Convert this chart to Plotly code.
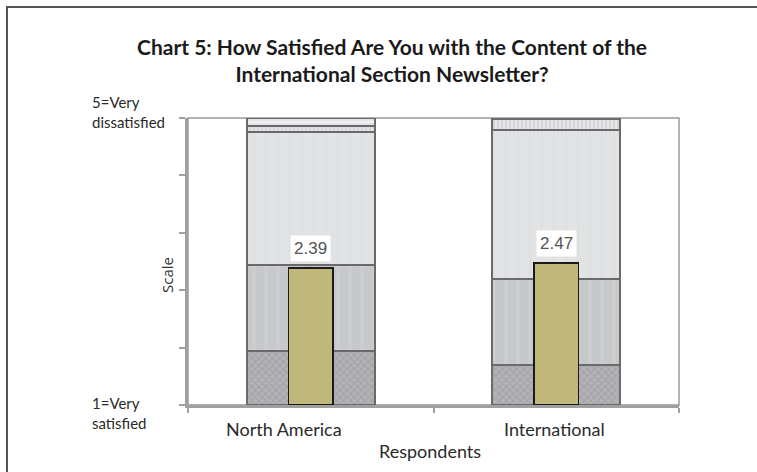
import plotly.graph_objects as go

categories = ["North America", "International"]
# distribution of responses (% of respondents) on the 1-5 scale
very_satisfied = [18.7, 13.9]
satisfied = [30.2, 29.9]
neutral = [46.3, 52.0]
dissatisfied = [2.1, 3.7]
very_dissatisfied = [2.7, 0.5]
mean_scores = [2.39, 2.47]
mean_labels = ["2.39", "2.47"]

W, H = 757, 472
ML, MR, MT, MB = 188, 78, 118, 67
pw = W - ML - MR
ph = H - MT - MB

def px_x(px):
    return (px - ML) / pw

def px_y(py):
    return (H - MB - py) / ph

fig = go.Figure()

seg_styles = [
    (very_satisfied, "#a9a9ad", dict(shape="x", fgcolor="#8c8c90", bgcolor="#b4b4b8", size=5, solidity=0.35)),
    (satisfied, "#cacbcd", dict(shape="|", fgcolor="#d3d4d6", bgcolor="#c7c8ca", size=12, solidity=0.25)),
    (neutral, "#e1e2e4", dict(shape="|", fgcolor="#dadbdd", bgcolor="#e2e3e5", size=12, solidity=0.2)),
    (dissatisfied, "#d8d8da", dict(shape="|", fgcolor="#bdbdc0", bgcolor="#e6e6e8", size=4, solidity=0.4)),
    (very_dissatisfied, "#ececee", dict(shape="-", fgcolor="#c8c8ca", bgcolor="#f0f0f2", size=4, solidity=0.3)),
]
for vals, col, pat in seg_styles:
    fig.add_trace(go.Bar(
        x=categories, y=vals, width=0.52,
        marker=dict(color=col, pattern=pat, line=dict(color="#6a6a6c", width=2)),
        yaxis="y", showlegend=False, hoverinfo="skip",
    ))

fig.add_trace(go.Bar(
    x=categories, y=mean_scores, width=0.183,
    marker=dict(color="#bfb87a", line=dict(color="#1a1a1a", width=1.5)),
    yaxis="y2", showlegend=False, hoverinfo="skip",
))

annotations = []
for c, m, t in zip(categories, mean_scores, mean_labels):
    annotations.append(dict(
        x=c, y=m, xref="x", yref="y2", text=t, showarrow=False,
        yanchor="bottom", yshift=6, bgcolor="white", borderpad=3,
        font=dict(family="Liberation Sans, Arial", size=17, color="#555555"),
    ))

ylab_font = dict(family="Lato, Open Sans", size=15, color="#2a2a2a")
xlab_font = dict(family="Lato, Open Sans", size=18, color="#2a2a2a")
annotations += [
    dict(x=px_x(90), y=px_y(112), xref="paper", yref="paper", text="5=Very<br>dissatisfied",
         showarrow=False, xanchor="left", yanchor="middle", align="left", font=ylab_font),
    dict(x=px_x(90), y=px_y(413), xref="paper", yref="paper", text="1=Very<br>satisfied",
         showarrow=False, xanchor="left", yanchor="middle", align="left", font=ylab_font),
    dict(x=px_x(284), y=px_y(429), xref="paper", yref="paper", text="North America",
         showarrow=False, xanchor="center", yanchor="middle", font=xlab_font),
    dict(x=px_x(554), y=px_y(429), xref="paper", yref="paper", text="International",
         showarrow=False, xanchor="center", yanchor="middle", font=xlab_font),
    dict(x=px_x(430), y=px_y(451), xref="paper", yref="paper", text="Respondents",
         showarrow=False, xanchor="center", yanchor="middle", font=xlab_font),
    dict(x=px_x(167), y=px_y(275), xref="paper", yref="paper", text="Scale",
         showarrow=False, textangle=-90, xanchor="center", yanchor="middle",
         font=dict(family="Open Sans", size=15, color="#333333")),
    dict(x=px_x(392), y=px_y(60), xref="paper", yref="paper",
         text="<b>Chart 5: How Satisfied Are You with the Content of the<br>International Section Newsletter?</b>",
         showarrow=False, xanchor="center", yanchor="middle", align="center",
         font=dict(family="Lato", size=21, color="#1a1a1a")),
]

shapes = [
    # outer frame
    dict(type="rect", xref="paper", yref="paper", x0=px_x(7), y0=px_y(480), x1=px_x(770), y1=px_y(7),
         line=dict(color="#555555", width=2), layer="below"),
    # plot area frame (top/right)
    dict(type="rect", xref="paper", yref="paper", x0=0, y0=0, x1=1, y1=1,
         line=dict(color="#9a9a9a", width=1.5), layer="below"),
]

fig.update_layout(
    width=W, height=H,
    margin=dict(l=ML, r=MR, t=MT, b=MB, pad=0),
    paper_bgcolor="white", plot_bgcolor="white",
    barmode="stack",
    xaxis=dict(type="category", showticklabels=False, ticks="outside", tickson="boundaries",
               ticklen=5, tickcolor="#a0a0a0", tickwidth=2, showline=True,
               linecolor="#a0a0a0", linewidth=3, showgrid=False, zeroline=False),
    yaxis=dict(range=[0, 100], tickvals=[0, 20, 40, 60, 80, 100], showticklabels=False,
               ticks="outside", ticklen=6, tickcolor="#a0a0a0", tickwidth=2,
               showline=True, linecolor="#a0a0a0", linewidth=3, showgrid=False, zeroline=False),
    yaxis2=dict(range=[0, 5], overlaying="y", visible=False),
    annotations=annotations,
    shapes=shapes,
)

fig.write_html("out.html")
